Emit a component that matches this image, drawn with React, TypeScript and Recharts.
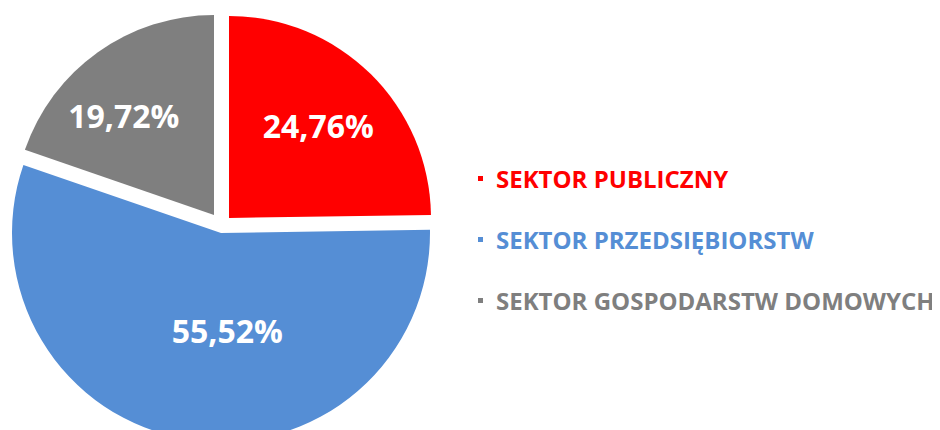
import React from "react";
import { PieChart, Pie, Cell, Legend } from "recharts";

const categories = ["SEKTOR PUBLICZNY", "SEKTOR PRZEDSIĘBIORSTW", "SEKTOR GOSPODARSTW DOMOWYCH"];
const shares = [24.76, 55.52, 19.72];
const valueLabels = ["24,76%", "55,52%", "19,72%"];
const colors = ["#FF0000", "#558ED5", "#7F7F7F"];

const data = categories.map((name, i) => ({ name, value: shares[i], label: valueLabels[i] }));

// per-slice exploded geometry (chart px)
const sliceGeom = [
  { cx: 221, cy: 210, r: 202, ldx: 0, ldy: -2 },
  { cx: 213, cy: 225, r: 209, ldx: 27, ldy: -33 },
  { cx: 206, cy: 207, r: 200, ldx: -17, ldy: 3 },
];

const RAD = Math.PI / 180;

const makeLabel = (target: number, ldx: number, ldy: number) => (props: any) => {
  const { cx, cy, midAngle, outerRadius, index } = props;
  if (index !== target) return null;
  const rr = outerRadius * 0.63;
  const x = cx + rr * Math.cos(-midAngle * RAD) + ldx;
  const y = cy + rr * Math.sin(-midAngle * RAD) + ldy;
  return (
    <text
      x={x}
      y={y}
      fill="#FFFFFF"
      textAnchor="middle"
      dominantBaseline="central"
      fontFamily="'Open Sans', sans-serif"
      fontWeight={700}
      fontSize={32}
    >
      {data[index].label}
    </text>
  );
};

const LegendContent = () => (
  <div style={{ fontFamily: "'Open Sans', sans-serif", fontWeight: 700 }}>
    {categories.map((c, i) => (
      <div key={c} style={{ height: 61, display: "flex", alignItems: "center", whiteSpace: "nowrap" }}>
        <span style={{ display: "inline-block", width: 5, height: 5, background: colors[i], marginRight: 13 }} />
        <span style={{ color: colors[i], fontSize: 24 }}>{c}</span>
      </div>
    ))}
  </div>
);

export default function App() {
  return (
    <PieChart width={940} height={430} margin={{ top: 0, right: 0, bottom: 0, left: 0 }}>
      {sliceGeom.map((g, k) => (
        <Pie
          key={k}
          data={data}
          dataKey="value"
          nameKey="name"
          cx={g.cx}
          cy={g.cy}
          outerRadius={g.r}
          startAngle={90}
          endAngle={-270}
          stroke="none"
          labelLine={false}
          label={makeLabel(k, g.ldx, g.ldy)}
          isAnimationActive={false}
          legendType="none"
        >
          {data.map((d, i) => (
            <Cell key={d.name} fill={i === k ? colors[i] : "none"} stroke="none" />
          ))}
        </Pie>
      ))}
      <Legend
        content={<LegendContent />}
        wrapperStyle={{ left: 470, top: 140, width: 470, bottom: "auto", right: "auto" }}
      />
    </PieChart>
  );
}
